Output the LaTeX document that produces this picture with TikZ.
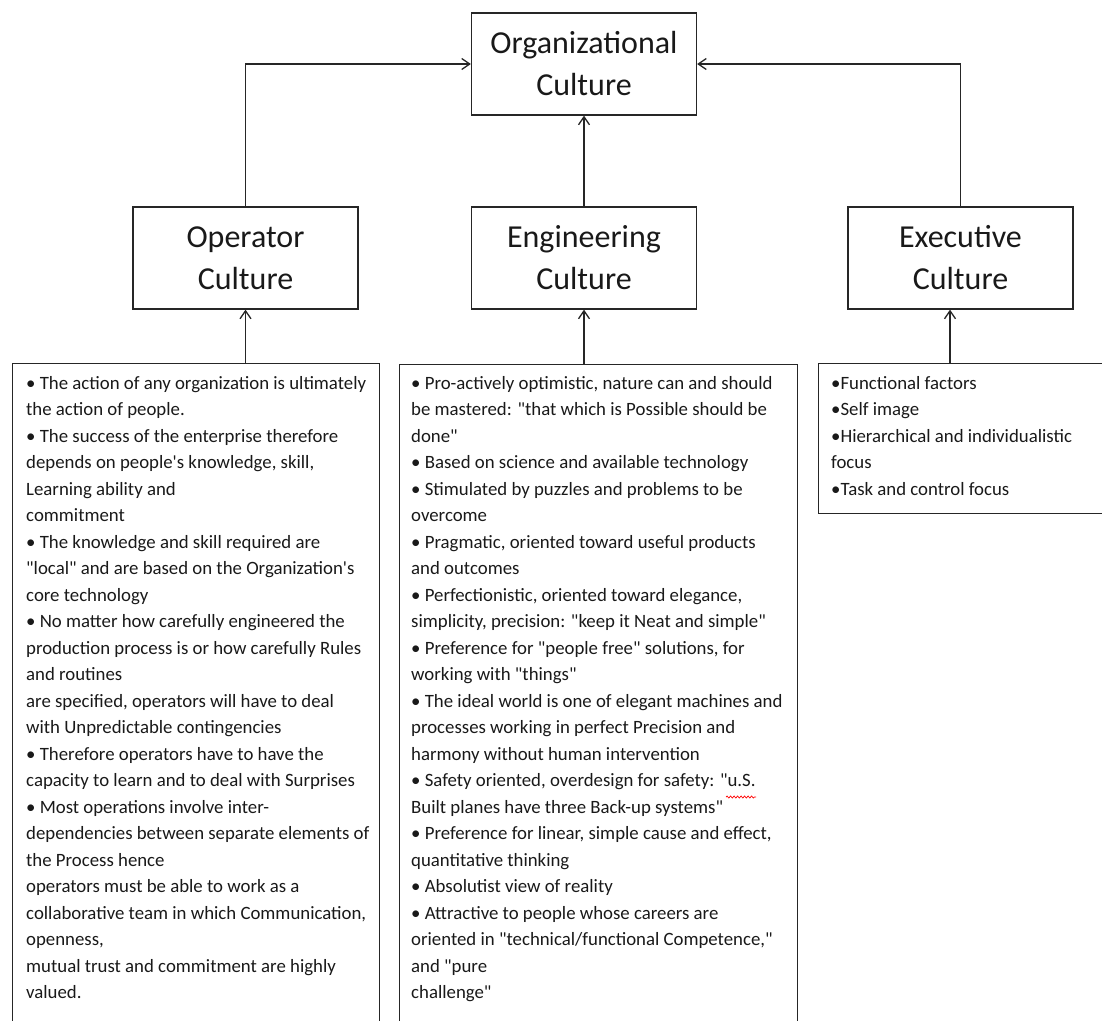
\documentclass[tikz,border=0pt]{standalone}
\usepackage{fontspec}
\setmainfont{Carlito}[Ligatures=TeXOff]
\usetikzlibrary{arrows.meta,decorations.pathmorphing}
\begin{document}
\begin{tikzpicture}[x=1pt,y=-1pt,
 title/.style={draw=black!85, line width=1.3pt, minimum width=225, minimum height=102, align=center, inner sep=0, font=\fontsize{32}{42}\selectfont, text=black!90},
 tbox/.style={draw=black!85, line width=1.3pt, anchor=north west, inner sep=0},
 body/.style={anchor=north west, align=left, inner sep=0, font=\fontsize{18.8}{26.5}\selectfont, text=black!90},
 arr/.style={line width=1.3pt, draw=black!85, -{Straight Barb[length=8pt,width=11pt]}}]
\useasboundingbox (0,0) rectangle (1102,1020);
\clip (0,0) rectangle (1102,1020);
\node[title] (org) at (584,64) {Organizational\\Culture};
\node[title] (op) at (245.5,258) {Operator\\Culture};
\node[title] (eng) at (584,258) {Engineering\\Culture};
\node[title] (ex) at (960.5,258) {Executive\\Culture};
\node[tbox, minimum width=367, minimum height=680] (opbox) at (12,363) {};
\node[tbox, minimum width=398, minimum height=680] (engbox) at (399,364) {};
\node[tbox, minimum width=320, minimum height=150] (exbox) at (818,363) {};
\node[body] (optext) at (26,376) {%
• The action of any organization is ultimately\\
the action of people.\\
• The success of the enterprise therefore\\
depends on people's knowledge, skill,\\
Learning ability and\\
commitment\\
• The knowledge and skill required are\\
"local" and are based on the Organization's\\
core technology\\
• No matter how carefully engineered the\\
production process is or how carefully Rules\\
and routines\\
are specified, operators will have to deal\\
with Unpredictable contingencies\\
• Therefore operators have to have the\\
capacity to learn and to deal with Surprises\\
• Most operations involve inter-\\
dependencies between separate elements of\\
the Process hence\\
operators must be able to work as a\\
collaborative team in which Communication,\\
openness,\\
mutual trust and commitment are highly\\
valued.};
\node[body] (engtext) at (411,376) {%
• Pro-actively optimistic, nature can and should\\
be mastered: "that which is Possible should be\\
done"\\
• Based on science and available technology\\
• Stimulated by puzzles and problems to be\\
overcome\\
• Pragmatic, oriented toward useful products\\
and outcomes\\
• Perfectionistic, oriented toward elegance,\\
simplicity, precision: "keep it Neat and simple"\\
• Preference for "people free" solutions, for\\
working with "things"\\
• The ideal world is one of elegant machines and\\
processes working in perfect Precision and\\
harmony without human intervention\\
• Safety oriented, overdesign for safety: "u.S.\\
Built planes have three Back-up systems"\\
• Preference for linear, simple cause and effect,\\
quantitative thinking\\
• Absolutist view of reality\\
• Attractive to people whose careers are\\
oriented in "technical/functional Competence,"\\
and "pure\\
challenge"};
\node[body] (extext) at (831,376) {%
•Functional factors\\
•Self image\\
•Hierarchical and individualistic\\
focus\\
•Task and control focus};
\draw[arr] (op.north) |- (org.west);
\draw[arr] (ex.north) |- (org.east);
\draw[arr] (eng.north) -- (org.south);
\draw[arr] (opbox.north -| op.south) -- (op.south);
\draw[arr] (engbox.north -| eng.south) -- (eng.south);
\coordinate (exin) at ([xshift=132pt]exbox.north west);
\draw[arr] (exin) -- (exin |- ex.south);
\draw[red, line width=0.7pt, decorate, decoration={snake, segment length=3.5pt, amplitude=1pt}] (726,797) -- (756,797);
\end{tikzpicture}
\end{document}
